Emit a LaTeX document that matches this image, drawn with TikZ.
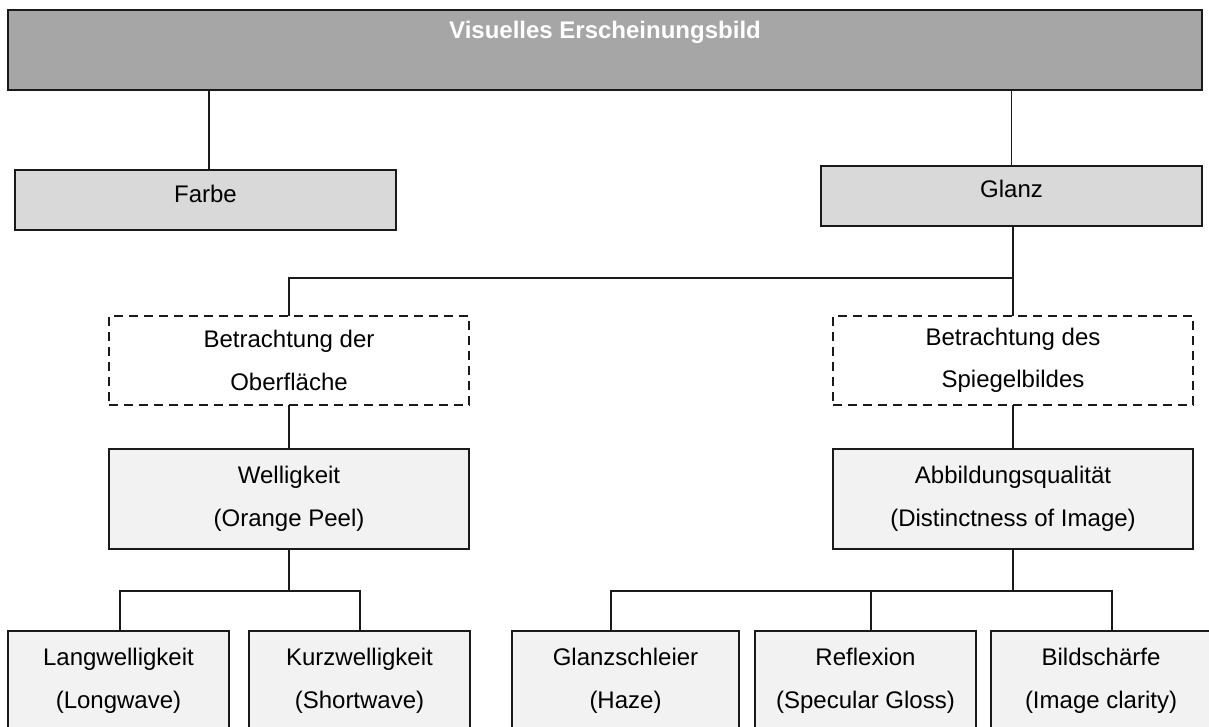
\documentclass[tikz,border=0pt]{standalone}
\usepackage{fontspec}
\setmainfont{Liberation Sans}
\definecolor{topgray}{HTML}{A6A6A6}
\definecolor{midgray}{HTML}{D9D9D9}
\definecolor{lightgray}{HTML}{F2F2F2}
\definecolor{linecol}{HTML}{1A1A1A}
\begin{document}
\begin{tikzpicture}[x=1pt,y=-1pt,
  every node/.style={font=\fontsize{24}{42.5}\selectfont, align=center, inner sep=0pt, outer sep=0pt},
  basebox/.style={draw=linecol, line width=1.5pt, rectangle},
  topbox/.style={basebox, fill=topgray, text=white, font=\fontsize{24}{42.5}\selectfont\bfseries},
  midbox/.style={basebox, fill=midgray},
  lowbox/.style={basebox, fill=lightgray},
  dashbox/.style={draw=linecol, line width=1.5pt, rectangle, fill=white, dash pattern=on 9pt off 6pt},
  conn/.style={draw=linecol, line width=1.5pt}
]
\useasboundingbox (0,0) rectangle (1209,726);
\clip (0,0) rectangle (1209,726);
\fill[white] (0,0) rectangle (1209,726);

% boxes
\node[topbox, minimum width=1194pt, minimum height=80pt] (top) at (605,50) {\raisebox{18pt}[\height][\depth]{Visuelles Erscheinungsbild}};
\node[midbox, minimum width=381pt, minimum height=60pt] (farbe) at (205.5,200) {\raisebox{6pt}[\height][\depth]{Farbe}};
\node[midbox, minimum width=381pt, minimum height=60pt] (glanz) at (1011.5,196) {\raisebox{7pt}[\height][\depth]{Glanz}};

\node[dashbox, minimum width=360pt, minimum height=89pt] (dashL) at (289,360.5) {Betrachtung der\\Oberfläche};
\node[dashbox, minimum width=360pt, minimum height=89pt] (dashR) at (1013,360.5) {Betrachtung des\\Spiegelbildes};

\node[lowbox, minimum width=360pt, minimum height=100pt] (well) at (289,499) {Welligkeit\\(Orange Peel)};
\node[lowbox, minimum width=360pt, minimum height=100pt] (abb) at (1013,499) {Abbildungsqualität\\(Distinctness of Image)};

\node[lowbox, minimum width=221pt, minimum height=100pt] (lang) at (118.5,681) {Langwelligkeit\\(Longwave)};
\node[lowbox, minimum width=221pt, minimum height=100pt] (kurz) at (359.5,681) {Kurzwelligkeit\\(Shortwave)};
\node[lowbox, minimum width=227pt, minimum height=100pt] (gs) at (625.5,681) {Glanzschleier\\(Haze)};
\node[lowbox, minimum width=221pt, minimum height=100pt] (refl) at (865.5,681) {Reflexion\\(Specular Gloss)};
\node[lowbox, minimum width=220pt, minimum height=100pt] (bild) at (1101,681) {Bildschärfe\\(Image clarity)};

% connectors
\draw[conn] ([xshift=3.5pt]farbe.north |- top.south) -- ([xshift=3.5pt]farbe.north);
\draw[conn] (glanz.north |- top.south) -- (glanz.north);

\coordinate (jG) at (1013,278);
\draw[conn] ([xshift=1.5pt]glanz.south) -- (dashR.north);
\draw[conn] (jG) -- (jG -| dashL.north) -- (dashL.north);

\draw[conn] (dashL.south) -- (well.north);
\draw[conn] (dashR.south) -- (abb.north);

\coordinate (jW) at (289,591);
\draw[conn] (well.south) -- (jW);
\draw[conn] ([xshift=1.5pt]lang.north) -- ([xshift=1.5pt]lang.north |- jW) -- ([xshift=0.5pt]kurz.north |- jW) -- ([xshift=0.5pt]kurz.north);

\coordinate (jA) at (1013,591);
\draw[conn] (abb.south) -- (jA);
\draw[conn] ([xshift=-14.5pt]gs.north) -- ([xshift=-14.5pt]gs.north |- jA) -- ([xshift=11pt]bild.north |- jA) -- ([xshift=11pt]bild.north);
\draw[conn] ([xshift=5.5pt]refl.north |- jA) -- ([xshift=5.5pt]refl.north);
\end{tikzpicture}
\end{document}
